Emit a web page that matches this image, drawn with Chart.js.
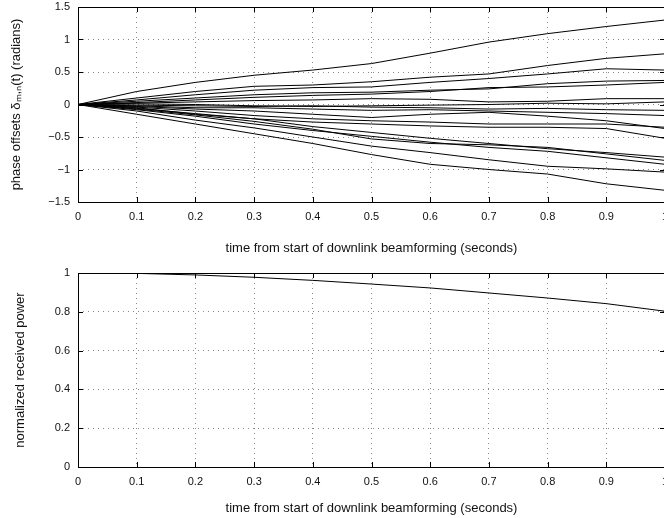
<!DOCTYPE html>
<html>
<head>
<meta charset="utf-8">
<script src="https://cdn.jsdelivr.net/npm/chart.js@4"></script>
<style>
  html, body { margin: 0; padding: 0; background: #fff; }
  #wrap { position: relative; width: 664px; height: 518px; overflow: hidden; }
  canvas { position: absolute; left: 0; }
  #phase { top: 0; }
  #power { top: 260px; }
</style>
</head>
<body>
<div id="wrap">
  <canvas id="phase" width="700" height="260"></canvas>
  <canvas id="power" width="700" height="258"></canvas>
</div>
<script>
// time samples (seconds)
const temps = [0, 0.1, 0.2, 0.3, 0.4, 0.5, 0.6, 0.7, 0.8, 0.9, 1.0];

// phase offsets (radians), one array per trace
const phaseA = [0, 0.2, 0.34, 0.45, 0.53, 0.63, 0.79, 0.96, 1.09, 1.2, 1.3];
const phaseB = [0, 0.1, 0.2, 0.28, 0.3, 0.35, 0.42, 0.47, 0.6, 0.71, 0.78];
const phaseC = [0, 0.07, 0.15, 0.22, 0.26, 0.27, 0.34, 0.4, 0.47, 0.55, 0.53];
const phaseD = [0, 0.05, 0.1, 0.15, 0.18, 0.19, 0.22, 0.24, 0.32, 0.36, 0.37];
const phaseE = [0, 0.03, 0.07, 0.11, 0.14, 0.16, 0.2, 0.26, 0.27, 0.3, 0.34];
const phaseF = [0, 0.02, 0.04, 0.06, 0.07, 0.09, 0.08, 0.04, 0.05, 0.09, 0.09];
const phaseG = [0, 0.01, 0.0, -0.02, -0.03, -0.02, -0.01, 0.0, 0.02, 0.01, 0.04];
const phaseH = [0, -0.01, -0.02, -0.03, -0.02, -0.04, -0.05, -0.07, -0.06, -0.08, -0.09];
const phaseI = [0, -0.02, -0.05, -0.05, -0.07, -0.09, -0.08, -0.1, -0.12, -0.14, -0.17];
const phaseJ = [0, -0.03, -0.07, -0.1, -0.15, -0.2, -0.15, -0.12, -0.18, -0.25, -0.37];
const phaseK = [0, -0.04, -0.1, -0.17, -0.22, -0.25, -0.27, -0.3, -0.3, -0.3, -0.35];
const phaseL = [0, -0.05, -0.15, -0.22, -0.27, -0.3, -0.33, -0.35, -0.35, -0.37, -0.52];
const phaseM = [0, -0.06, -0.14, -0.22, -0.34, -0.43, -0.52, -0.6, -0.68, -0.74, -0.81];
const phaseN = [0, -0.07, -0.16, -0.26, -0.38, -0.53, -0.6, -0.62, -0.66, -0.76, -0.86];
const phaseO = [0, -0.08, -0.18, -0.3, -0.4, -0.49, -0.58, -0.66, -0.72, -0.82, -0.92];
const phaseP = [0, -0.1, -0.24, -0.36, -0.5, -0.64, -0.74, -0.85, -0.95, -0.99, -1.04];
const phaseQ = [0, -0.15, -0.3, -0.45, -0.6, -0.77, -0.92, -1.0, -1.07, -1.22, -1.32];

// normalized received power
const puissance = [1, 0.998, 0.99, 0.978, 0.962, 0.943, 0.923, 0.897, 0.871, 0.842, 0.803];

// tick values
const xTicks = [0, 0.1, 0.2, 0.3, 0.4, 0.5, 0.6, 0.7, 0.8, 0.9, 1];
const yTicksPhase = [-1.5, -1, -0.5, 0, 0.5, 1, 1.5];
const yTicksPower = [0, 0.2, 0.4, 0.6, 0.8, 1];

const xTitle = "time from start of downlink beamforming (seconds)";
const police = "'Liberation Sans', Arial, Helvetica, sans-serif";

const fmt = v => {
  const s = String(+v.toFixed(2));
  return s.replace("-", "\u2212");
};

// box around the plot + inward tick marks (matlab look)
const cadre = {
  id: "cadre",
  afterDraw(chart) {
    const { ctx, chartArea: a, scales } = chart;
    ctx.save();
    ctx.strokeStyle = "#000";
    ctx.lineWidth = 1;
    ctx.strokeRect(Math.round(a.left) + 0.5, Math.round(a.top) + 0.5,
      Math.round(a.right - a.left), Math.round(a.bottom - a.top));
    ctx.beginPath();
    for (const t of scales.x.ticks) {
      const px = Math.round(scales.x.getPixelForValue(t.value)) + 0.5;
      ctx.moveTo(px, a.bottom); ctx.lineTo(px, a.bottom - 5);
      ctx.moveTo(px, a.top); ctx.lineTo(px, a.top + 5);
    }
    for (const t of scales.y.ticks) {
      const py = Math.round(scales.y.getPixelForValue(t.value)) + 0.5;
      ctx.moveTo(a.left, py); ctx.lineTo(a.left + 5, py);
      ctx.moveTo(a.right, py); ctx.lineTo(a.right - 5, py);
    }
    ctx.stroke();
    ctx.restore();
  }
};

function axeX(h, titlePad) {
  return {
    type: "linear",
    min: 0,
    max: 1,
    afterBuildTicks: s => { s.ticks = xTicks.map(v => ({ value: v })); },
    afterFit: s => { s.height = h; s.paddingLeft = 0; s.paddingRight = 0; },
    grid: { color: "#8a8a8a", lineWidth: 1, drawTicks: false },
    border: { display: false, dash: [1, 4] },
    ticks: {
      padding: 8,
      color: "#111",
      font: { family: police, size: 11 },
      maxRotation: 0,
      callback: v => fmt(v)
    },
    title: {
      display: true,
      text: xTitle,
      color: "#111",
      font: { family: police, size: 13 },
      padding: { top: 0, bottom: titlePad }
    }
  };
}

function axeY(min, max, ticksArr, titre, titlePad) {
  return {
    min: min,
    max: max,
    afterBuildTicks: s => { s.ticks = ticksArr.map(v => ({ value: v })); },
    afterFit: s => { s.width = 78; s.paddingTop = 0; s.paddingBottom = 0; },
    grid: { color: "#8a8a8a", lineWidth: 1, drawTicks: false },
    border: { display: false, dash: [1, 4] },
    ticks: {
      padding: 8,
      color: "#111",
      font: { family: police, size: 11 },
      callback: v => fmt(v)
    },
    title: {
      display: true,
      text: titre,
      color: "#111",
      font: { family: police, size: 13 },
      padding: { top: titlePad, bottom: 0 }
    }
  };
}

const seriesPhase = [phaseA, phaseB, phaseC, phaseD, phaseE, phaseF, phaseG, phaseH, phaseI,
  phaseJ, phaseK, phaseL, phaseM, phaseN, phaseO, phaseP, phaseQ];

new Chart(document.getElementById("phase"), {
  type: "line",
  data: {
    datasets: seriesPhase.map(arr => ({
      data: arr.map((v, i) => ({ x: temps[i], y: v })),
      borderColor: "#000",
      borderWidth: 1,
      pointRadius: 0,
      tension: 0
    }))
  },
  options: {
    responsive: false,
    animation: false,
    layout: { padding: { top: 7, right: 35, bottom: 0, left: 0 } },
    plugins: { legend: { display: false }, tooltip: { enabled: false } },
    scales: {
      x: axeX(58, 4),
      y: axeY(-1.5, 1.5, yTicksPhase, "phase offsets \u03b4\u2098,\u2099(t) (radians)", 9)
    }
  },
  plugins: [cadre]
});

new Chart(document.getElementById("power"), {
  type: "line",
  data: {
    datasets: [{
      data: puissance.map((v, i) => ({ x: temps[i], y: v })),
      borderColor: "#000",
      borderWidth: 1,
      pointRadius: 0,
      tension: 0
    }]
  },
  options: {
    responsive: false,
    animation: false,
    layout: { padding: { top: 13, right: 35, bottom: 0, left: 0 } },
    plugins: { legend: { display: false }, tooltip: { enabled: false } },
    scales: {
      x: axeX(51, 2),
      y: axeY(0, 1, yTicksPower, "normalized received power", 13)
    }
  },
  plugins: [cadre]
});
</script>
</body>
</html>
